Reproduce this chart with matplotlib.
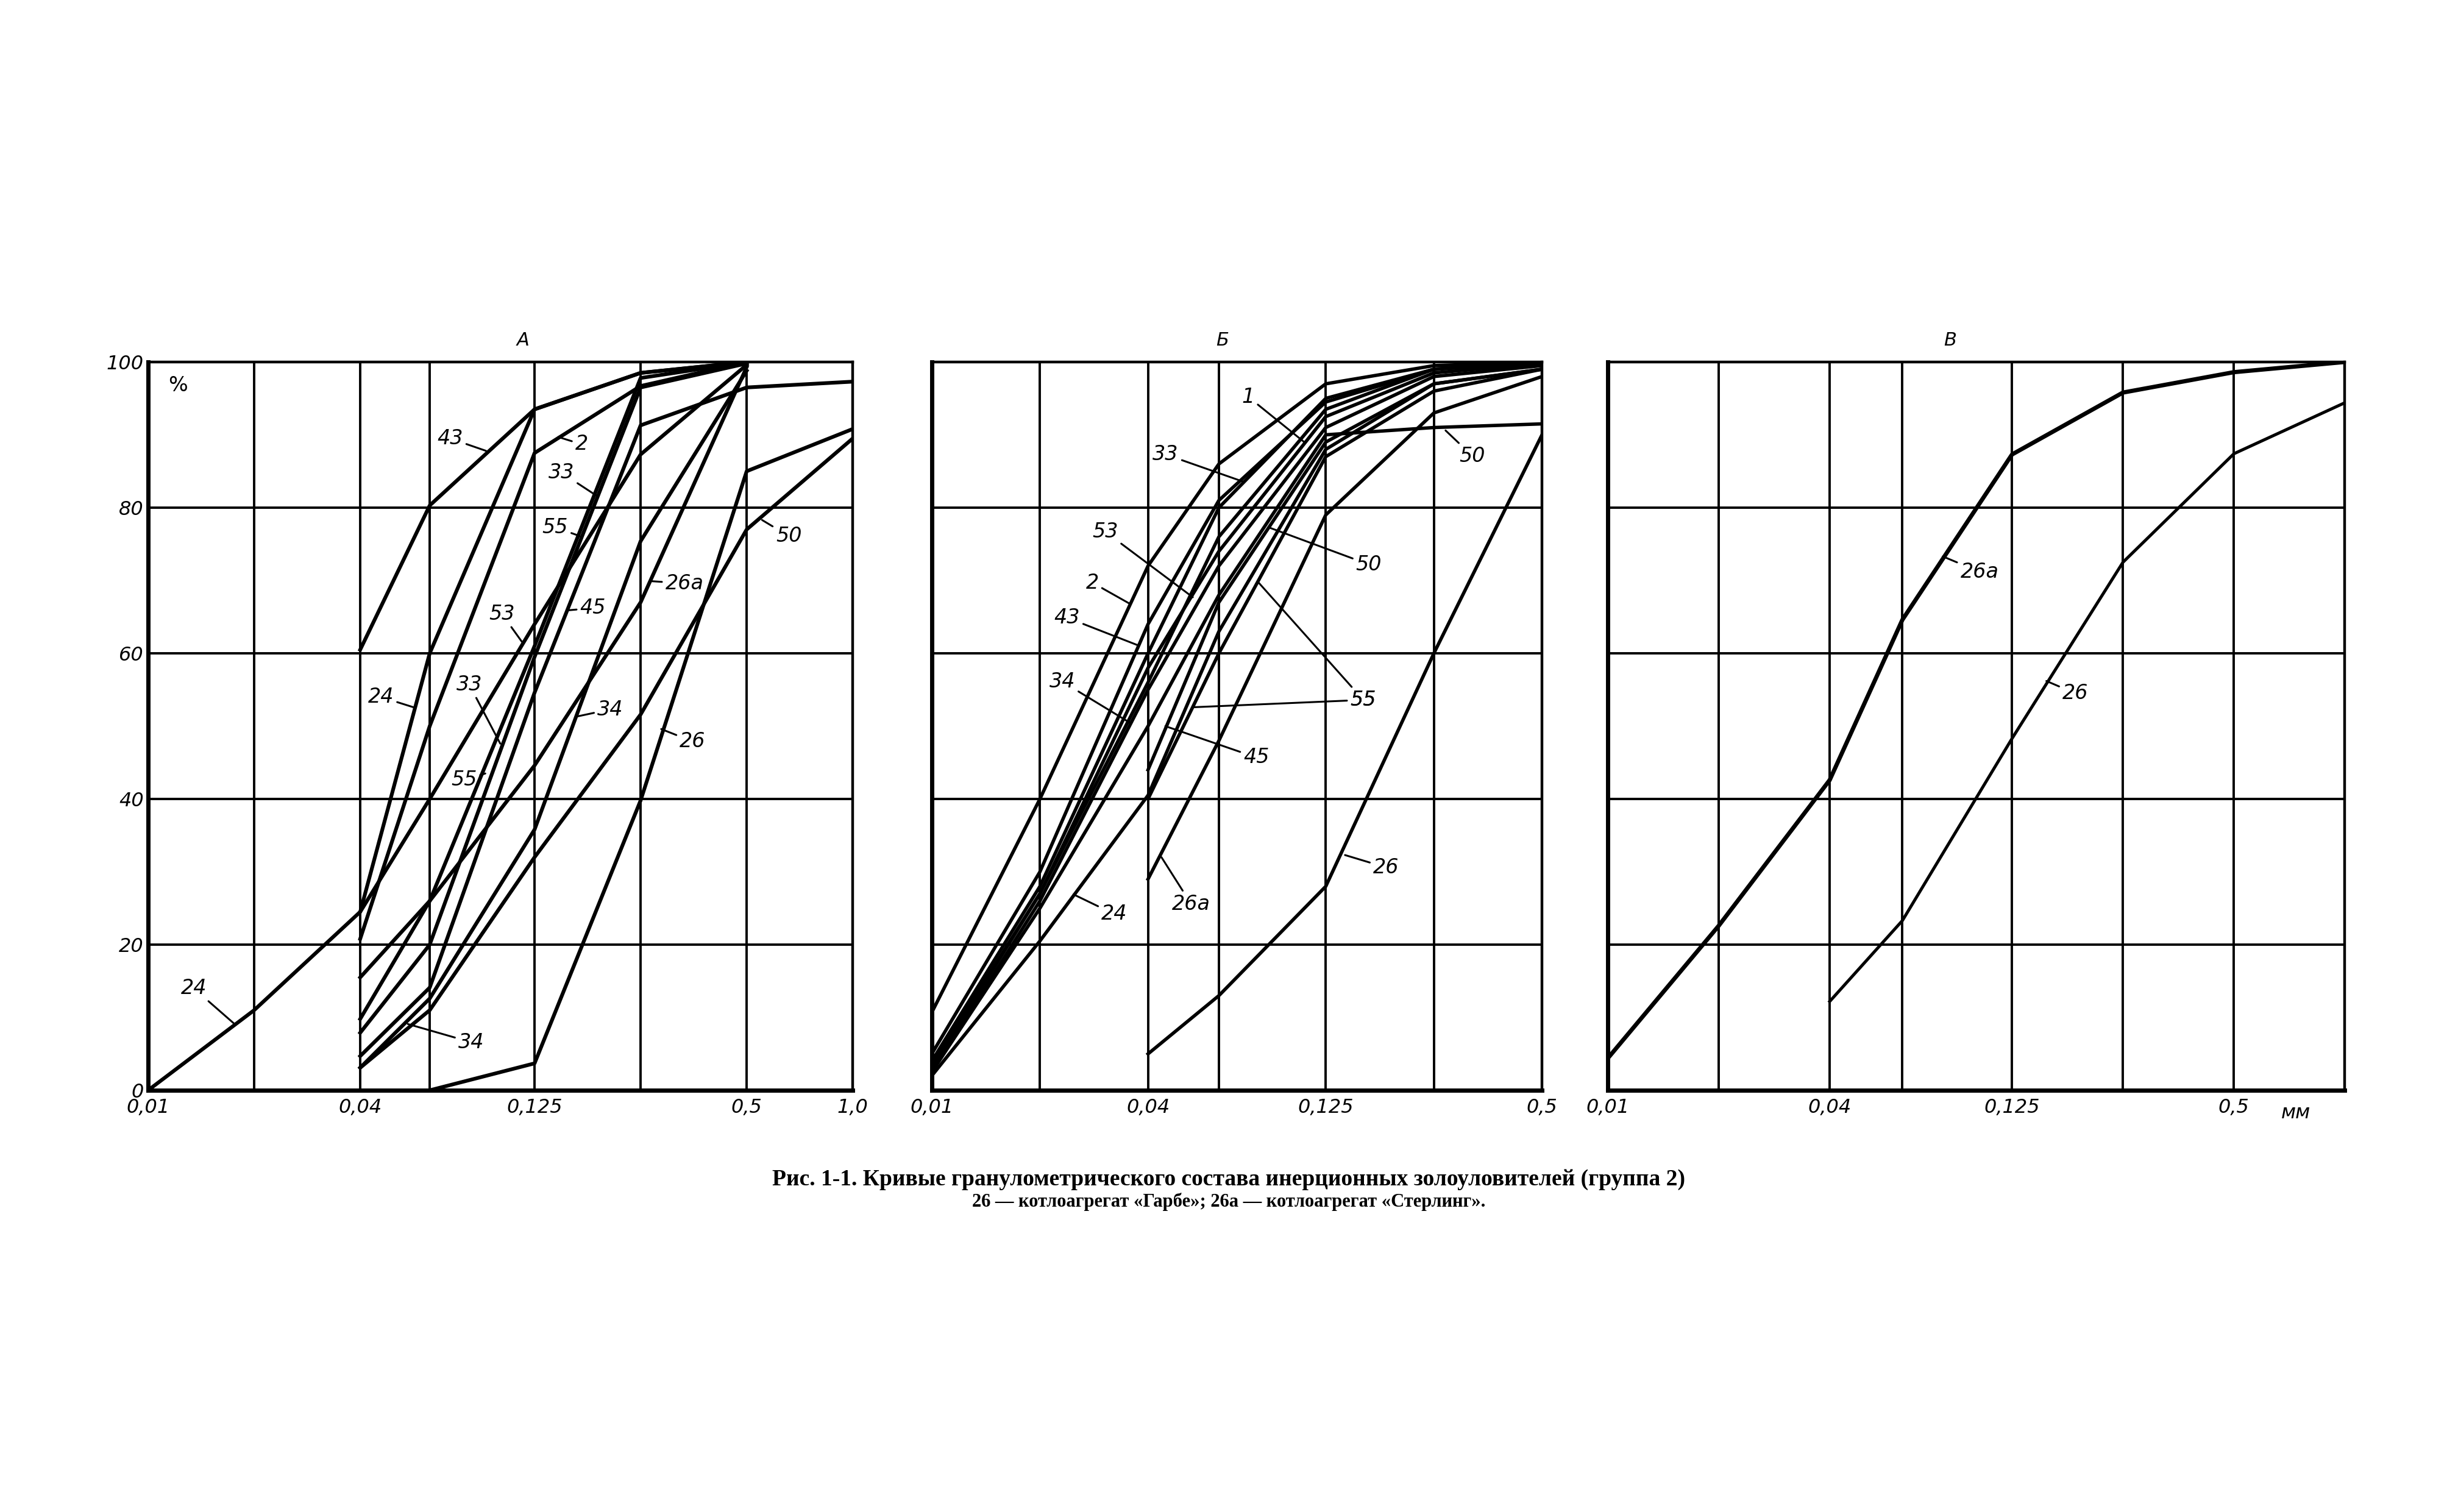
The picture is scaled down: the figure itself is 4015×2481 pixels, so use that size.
import numpy as np
import matplotlib
matplotlib.use("Agg")
import matplotlib.pyplot as plt
from matplotlib.ticker import FixedLocator, NullLocator, FixedFormatter

plt.rcParams['font.family'] = ['DejaVu Sans']

nan = np.nan

# particle sizes (mm) of the grid columns
sizes_a = [0.01, 0.02, 0.04, 0.063, 0.125, 0.25, 0.5, 1.0]
sizes_b = [0.01, 0.02, 0.04, 0.063, 0.125, 0.25, 0.5]
sizes_c = [0.01, 0.02, 0.04, 0.063, 0.125, 0.25, 0.5, 1.0]
pct_ticks = [0, 20, 40, 60, 80, 100]

xlabels_a = ['0,01', '', '0,04', '', '0,125', '', '0,5', '1,0']
xlabels_b = ['0,01', '', '0,04', '', '0,125', '', '0,5']
xlabels_c = ['0,01', '', '0,04', '', '0,125', '', '0,5', '']
ylabels_a = ['0', '20', '40', '60', '80', '100']

# panel A, % at each size
a_24 = [0, 11, 24.5, 60, 93.5, 98.5, 100, nan]
a_43 = [nan, nan, 60.5, 80.3, 93.5, 98.5, 100, nan]
a_2 = [nan, nan, 20.8, 50, 87.5, 96.7, 100, nan]
a_53 = [nan, nan, 24.5, 40, 64, 87.3, 99.6, nan]
a_33 = [nan, nan, 9.8, 26, 61, 97.8, 100, nan]
a_55 = [nan, nan, 7.9, 20, 59.5, 96.5, 99.8, nan]
a_45 = [nan, nan, 4.7, 14.1, 54.6, 91.3, 96.5, 97.3]
a_26a = [nan, nan, 15.5, 26, 44.6, 67, 99.3, nan]
a_34 = [nan, nan, 3.1, 12.6, 35.8, 75.4, 98.8, nan]
a_50 = [nan, nan, 3.1, 11, 32, 51.6, 77, 89.5]
a_26 = [nan, nan, nan, 0, 3.7, 39.8, 85, 90.8]

# panel Б
b_2 = [10.7, 40, 72, 86, 97, 99.5, 100]
b_43 = [5, 30, 64, 81, 94.5, 99, 100]
b_33 = [4, 28, 60, 80, 95, 99, 100]
b_53 = [3.5, 27, 58, 74, 92.5, 98.5, 99.8]
b_1 = [3, 27, 56, 76, 93.5, 99, 100]
b_34 = [2.5, 26, 55, 72, 91, 98, 99.5]
b_24 = [2, 20.5, 40.5, 63, 88, 97, 99]
b_55 = [nan, nan, 40, 60, 87, 96, 99]
b_45 = [nan, nan, 44, 67, 89, 97, 99]
b_50 = [2.5, 25, 50, 68, 90, 91, 91.5]
b_26a = [nan, nan, 29, 48, 79, 93, 98]
b_26 = [nan, nan, 5, 13, 28, 60, 90]

# panel В
c_26a = [4.4, 22.6, 42.6, 64.6, 87.3, 95.8, 98.6, 100]
c_26 = [nan, nan, 12.2, 23.3, 48.3, 72.5, 87.4, 94.4]

curves_a = [a_24, a_43, a_2, a_53, a_33, a_55, a_45, a_26a, a_34, a_50, a_26]
curves_b = [b_2, b_43, b_33, b_53, b_1, b_34, b_24, b_55, b_45, b_50, b_26a, b_26]

# curve labels: text, text x, text y, leader tip x, leader tip y (data units)
notes_a = [('43', 0.072, 89.5, 0.091, 87.8),
           ('2', 0.170, 88.7, 0.146, 89.7),
           ('33', 0.149, 84.8, 0.188, 81.6),
           ('55', 0.143, 77.3, 0.168, 76.1),
           ('53', 0.101, 65.4, 0.115, 61.6),
           ('45', 0.183, 66.2, 0.155, 65.9),
           ('24', 0.0458, 54.0, 0.0566, 52.6),
           ('33', 0.0816, 55.7, 0.0999, 47.6),
           ('26а', 0.333, 69.6, 0.269, 69.9),
           ('34', 0.205, 52.3, 0.164, 51.3),
           ('26', 0.351, 47.9, 0.286, 49.6),
           ('55', 0.0788, 42.6, 0.0906, 43.5),
           ('34', 0.0826, 6.6, 0.0546, 9.1),
           ('50', 0.658, 76.1, 0.553, 78.3),
           ('24', 0.01348, 14.0, 0.0176, 9.1)]
notes_b = [('1', 0.0761, 95.2, 0.1089, 89.0),
           ('33', 0.0448, 87.3, 0.0733, 83.6),
           ('53', 0.0304, 76.7, 0.0533, 67.7),
           ('2', 0.028, 69.7, 0.0356, 66.8),
           ('43', 0.0238, 64.9, 0.0375, 61.1),
           ('34', 0.0231, 56.1, 0.0358, 50.4),
           ('24', 0.0322, 24.2, 0.0248, 26.9),
           ('26а', 0.0527, 25.6, 0.0436, 32.0),
           ('45', 0.0801, 45.7, 0.0447, 50.0),
           ('55', 0.159, 53.6, 0.0813, 69.7),
           ('55', 0.159, 53.6, 0.0537, 52.6),
           ('50', 0.1648, 72.2, 0.0866, 77.3),
           ('50', 0.32, 87.1, 0.2694, 90.6),
           ('26', 0.184, 30.6, 0.1414, 32.3)]
notes_c = [('26а', 0.102, 71.2, 0.0811, 73.3),
           ('26', 0.1856, 54.5, 0.1549, 56.2)]

fig = plt.figure(figsize=(40.16, 24.81), dpi=100)
ax_a = fig.add_axes([0.0605, 0.2789, 0.2879, 0.4817])
ax_b = fig.add_axes([0.3807, 0.2789, 0.2493, 0.4817])
ax_c = fig.add_axes([0.6569, 0.2789, 0.3011, 0.4817])


def setup(ax, sizes, xlabels, ylabels):
    ax.set_xscale('log')
    ax.set_xlim(sizes[0], sizes[-1])
    ax.set_ylim(0, 100)
    ax.xaxis.set_major_locator(FixedLocator(sizes))
    ax.xaxis.set_minor_locator(NullLocator())
    ax.xaxis.set_major_formatter(FixedFormatter(xlabels))
    ax.yaxis.set_major_locator(FixedLocator(pct_ticks))
    ax.yaxis.set_major_formatter(FixedFormatter(ylabels))
    ax.grid(True, color='black', lw=2.8)
    ax.set_axisbelow(True)
    ax.tick_params(length=0, labelsize=23, pad=9)
    ax.tick_params(axis='y', pad=5)
    for t in ax.get_xticklabels() + ax.get_yticklabels():
        t.set_style('italic')
    for side in ['left', 'bottom']:
        ax.spines[side].set_linewidth(5.0)
    for side in ['top', 'right']:
        ax.spines[side].set_linewidth(3.2)


def add_notes(ax, notes):
    for txt, tx, ty, px, py in notes:
        ax.annotate(txt, xy=(px, py), xytext=(tx, ty), ha='center', va='center',
                    fontsize=24, style='italic',
                    arrowprops=dict(arrowstyle='-', lw=2.2, color='black',
                                    shrinkA=2, shrinkB=0))


setup(ax_a, sizes_a, xlabels_a, ylabels_a)
setup(ax_b, sizes_b, xlabels_b, [''] * 6)
setup(ax_c, sizes_c, xlabels_c, [''] * 6)

for vals in curves_a:
    ax_a.plot(sizes_a, vals, color='black', lw=4.4)
for vals in curves_b:
    ax_b.plot(sizes_b, vals, color='black', lw=4.0)
ax_c.plot(sizes_c, c_26a, color='black', lw=5.0)
ax_c.plot(sizes_c, c_26, color='black', lw=3.6)

add_notes(ax_a, notes_a)
add_notes(ax_b, notes_b)
add_notes(ax_c, notes_c)

ax_a.text(0.029, 0.968, '%', transform=ax_a.transAxes, fontsize=24,
          ha='left', va='center')
ax_c.text(0.736, -0.031, 'мм', transform=ax_c.get_xaxis_transform(),
          fontsize=23, style='italic', ha='center', va='center')

for ax, tx, title in [(ax_a, 0.532, 'А'), (ax_b, 0.476, 'Б'), (ax_c, 0.464, 'В')]:
    ax.text(tx, 1.03, title, transform=ax.transAxes, fontsize=22,
            style='italic', ha='center', va='center')

fig.text(0.502, 0.220,
         'Рис. 1-1. Кривые гранулометрического состава инерционных золоуловителей (группа 2)',
         ha='center', va='center', family='Liberation Serif', fontsize=27,
         fontweight='bold')
fig.text(0.502, 0.205,
         '26 — котлоагрегат «Гарбе»; 26а — котлоагрегат «Стерлинг».',
         ha='center', va='center', family='Liberation Serif', fontsize=22,
         fontweight='bold')

fig.savefig('out.png', dpi=100, facecolor='white')
